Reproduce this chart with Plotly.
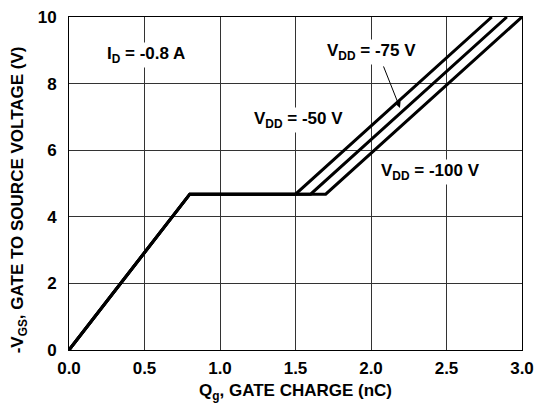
import plotly.graph_objects as go

# Data
qg_50 = [0.0, 0.8, 1.5, 2.8]
vgs_50 = [0.0, 4.68, 4.68, 10.0]
qg_75 = [0.0, 0.8, 1.6, 2.9]
vgs_75 = [0.0, 4.68, 4.68, 10.0]
qg_100 = [0.0, 0.8, 1.7, 3.0]
vgs_100 = [0.0, 4.68, 4.68, 10.0]

x_ticks = [0.0, 0.5, 1.0, 1.5, 2.0, 2.5, 3.0]
y_ticks = [0, 2, 4, 6, 8, 10]

FONT = "Liberation Sans, Arial, Helvetica, sans-serif"

fig = go.Figure()
for xs, ys, name in [(qg_50, vgs_50, "-50 V"), (qg_75, vgs_75, "-75 V"), (qg_100, vgs_100, "-100 V")]:
    fig.add_trace(go.Scatter(x=xs, y=ys, mode="lines", name=name,
                             line=dict(color="black", width=3), showlegend=False))

ann_font = dict(family=FONT, size=17, color="black")
annotations = [
    dict(x=0.507, y=8.86, text="<b>I<sub>D</sub> = -0.8 A</b>"),
    dict(x=2.0, y=8.95, text="<b>V<sub>DD</sub> = -75 V</b>"),
    dict(x=1.52, y=6.9, text="<b>V<sub>DD</sub> = -50 V</b>"),
    dict(x=2.394, y=5.35, text="<b>V<sub>DD</sub> = -100 V</b>"),
]
for a in annotations:
    fig.add_annotation(x=a["x"], y=a["y"], text=a["text"], showarrow=False,
                       font=ann_font, bgcolor="white", xref="x", yref="y")

# pointer arrow for -75 V
fig.add_annotation(x=2.192, y=7.27, ax=2.079, ay=8.56, axref="x", ayref="y",
                   xref="x", yref="y", text="", showarrow=True,
                   arrowhead=2, arrowsize=1.2, arrowwidth=1, arrowcolor="black")

# axis titles
fig.add_annotation(x=0.5, y=-0.126, xref="paper", yref="paper", showarrow=False,
                   xanchor="center", yanchor="middle",
                   text="<b>Q<sub>g</sub>, GATE CHARGE (nC)</b>",
                   font=dict(family=FONT, size=17, color="black"))
fig.add_annotation(x=-0.110, y=0.45, xref="paper", yref="paper", showarrow=False,
                   xanchor="center", yanchor="middle", textangle=-90,
                   text="<b>-V<sub>GS</sub>, GATE TO SOURCE VOLTAGE (V)</b>",
                   font=dict(family=FONT, size=17, color="black"))

fig.update_xaxes(range=[0, 3], tickvals=x_ticks, tickformat=".1f",
                 showgrid=True, gridcolor="#333333", gridwidth=1,
                 showline=True, linecolor="black", linewidth=1, mirror=True,
                 zeroline=False, ticks="", automargin=False, ticklabelstandoff=3,
                 ticklabeloverflow="allow",
                 tickfont=dict(family=FONT, size=17, color="black", weight="bold"))
fig.update_yaxes(range=[0, 10], tickvals=y_ticks,
                 showgrid=True, gridcolor="#333333", gridwidth=1,
                 showline=True, linecolor="black", linewidth=1, mirror=True,
                 zeroline=False, ticks="", automargin=False, ticklabelstandoff=8,
                 ticklabeloverflow="allow",
                 tickfont=dict(family=FONT, size=17, color="black", weight="bold"))

fig.update_layout(width=537, height=404,
                  margin=dict(l=69, r=15, t=17, b=54),
                  plot_bgcolor="white", paper_bgcolor="white")

# remove the browser's default body margin so the figure fills the window
fig.write_html("out.html", config={"displayModeBar": False},
               post_script="document.body.style.margin='0';document.body.style.overflow='hidden';")
